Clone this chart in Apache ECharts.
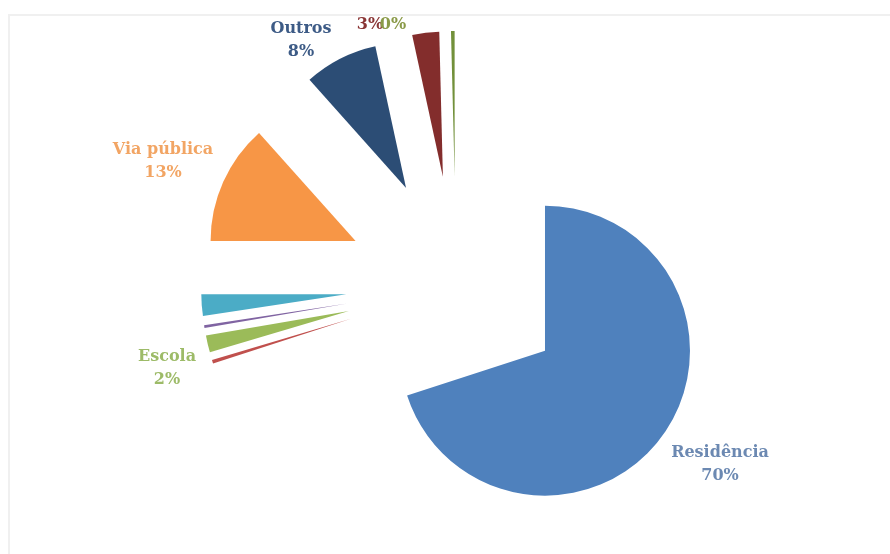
<!DOCTYPE html>
<html>
<head>
<meta charset="utf-8">
<script src="https://cdn.jsdelivr.net/npm/echarts@6/dist/echarts.min.js"></script>
<style>
  html, body { margin: 0; padding: 0; background: #ffffff; }
  #frame { position: absolute; left: 8px; top: 14px; width: 900px; height: 560px;
           border-top: 2px solid #f0f0f0; border-left: 2px solid #f0f0f0; }
  #chart { position: absolute; left: 0; top: 0; width: 890px; height: 554px; }
</style>
</head>
<body>
<div id="frame"></div>
<div id="chart"></div>
<script>
// Categories in clockwise order starting at 12 o'clock
const categories = ['Residência', 'Creche', 'Escola', 'Hospital', 'Abrigo', 'Via pública', 'Outros', 'Ignorado', 'Em branco'];
const values     = [70.0, 0.4, 1.9, 0.3, 2.4, 13.4, 8.2, 3.0, 0.4];
// Which labels are shown and how: 'full' = name + percent, 'pct' = percent only, '' = none
const labelKinds = ['full', '', 'full', '', '', 'full', 'full', 'pct', 'pct'];

const sliceColors = ['#4f81bd', '#c0504d', '#9bbb59', '#8064a2', '#4bacc6', '#f79646', '#2c4d75', '#832d2c', '#72903a'];
const labelColors = ['#6c89b2', '#c0504d', '#9dbb68', '#8064a2', '#4bacc6', '#f2a564', '#3d5b86', '#8a3636', '#8a9a48'];
// label centre positions (pixels) for shown labels
const labelPos = [[720, 464], null, [167, 368], null, null, [163, 161], [301, 40], [370, 25], [393, 25]];

const total = values.reduce((a, b) => a + b, 0);

function labelText(i) {
  const pct = Math.round(values[i] / total * 100) + '%';
  return labelKinds[i] === 'full' ? categories[i] + '\n' + pct : pct;
}

const chart = echarts.init(document.getElementById('chart'), null, { renderer: 'canvas' });

const data = categories.map((name, i) => ({
  name: name,
  value: values[i],
  selected: true,
  itemStyle: { color: sliceColors[i] }
}));

const labels = [];
categories.forEach((name, i) => {
  if (!labelKinds[i]) return;
  labels.push({
    type: 'text',
    x: labelPos[i][0],
    y: labelPos[i][1],
    z: 100,
    style: {
      text: labelText(i),
      fill: labelColors[i],
      font: 'bold 16px "DejaVu Serif"',
      lineHeight: 23,
      align: 'center',
      verticalAlign: 'middle'
    }
  });
});

chart.setOption({
  backgroundColor: 'transparent',
  animation: false,
  graphic: labels,
  series: [{
    type: 'pie',
    center: [456, 286],
    radius: [0, 145],
    startAngle: 90,
    clockwise: true,
    selectedMode: 'multiple',
    selectedOffset: 110,
    itemStyle: { borderWidth: 0 },
    label: { show: false },
    labelLine: { show: false },
    emphasis: { disabled: true },
    select: { itemStyle: {} },
    data: data
  }]
});
</script>
</body>
</html>
